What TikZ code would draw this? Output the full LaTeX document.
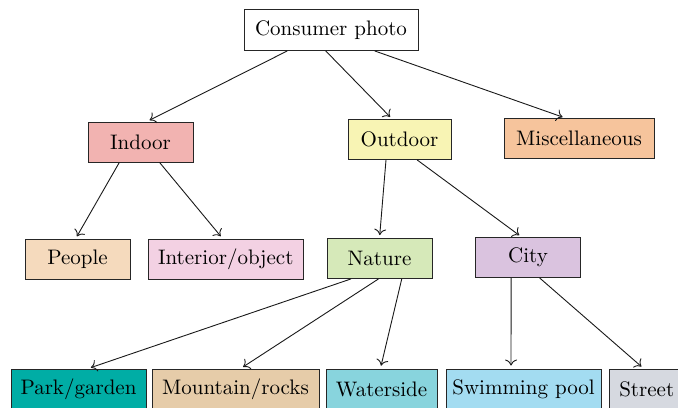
\documentclass[tikz,border=0pt]{standalone}
\usepackage{xcolor}
\usepackage{tikz}
\usetikzlibrary{arrows.meta,calc}

\definecolor{indoorc}{HTML}{F2B3B1}
\definecolor{outdoorc}{HTML}{F8F4B4}
\definecolor{miscc}{HTML}{F6C49C}
\definecolor{peoplec}{HTML}{F5DABD}
\definecolor{interiorc}{HTML}{F3D1E3}
\definecolor{naturec}{HTML}{D6E9B9}
\definecolor{cityc}{HTML}{DAC3DF}
\definecolor{parkc}{HTML}{00ADA5}
\definecolor{mountc}{HTML}{E6CCA9}
\definecolor{waterc}{HTML}{88D4DD}
\definecolor{swimc}{HTML}{A3DCF1}
\definecolor{streetc}{HTML}{D6D9E0}

\tikzset{
  cat/.style={draw=black!85, line width=0.45pt, fill=#1, minimum height=20pt, inner sep=0pt,
    font=\fontsize{10.5}{12}\selectfont},
  edge/.style={-{To[length=3pt,width=6pt]}, draw=black!90, line width=0.45pt, shorten >=1.5pt}
}

\begin{document}
\begin{tikzpicture}[x=0.5pt,y=-0.5pt]
        \useasboundingbox (0,0) rectangle (678,407);
        \clip (0,0) rectangle (678,407);
        % root and first level
        \node[cat=white, minimum width=87pt, minimum height=20.5pt] (cons) at (331,30) {Consumer photo};
        \node[cat=indoorc, minimum width=52.5pt] (indoor) at (140.5,142) {Indoor};
        \node[cat=outdoorc, minimum width=51.5pt] (outdoor) at (399.5,139.5) {Outdoor};
        \node[cat=miscc, minimum width=75pt] (misc) at (579,138.5) {Miscellaneous};
        % second level
        \node[cat=peoplec, minimum width=52.5pt] (people) at (77.5,259.5) {People};
        \node[cat=interiorc, minimum width=77.5pt] (interior) at (225.75,259) {Interior/object};
        \node[cat=naturec, minimum width=52.5pt] (nature) at (379.5,258.5) {Nature};
        \node[cat=cityc, minimum width=52.5pt] (city) at (528,257.5) {City};
        % leaves
        \node[cat=parkc, minimum width=67.5pt, minimum height=20.5pt] (park) at (78.5,389.5) {Park/garden};
        \node[cat=mountc, minimum width=83.5pt, minimum height=20.5pt] (mount) at (235.5,389.5) {Mountain/rocks};
        \node[cat=waterc, minimum width=55.5pt, minimum height=20.5pt] (water) at (381.5,389.5) {Waterside};
        \node[cat=swimc, minimum width=77.5pt, minimum height=20.5pt] (swim) at (523.5,389.5) {Swimming pool};
        \node[cat=streetc, minimum width=37.75pt, minimum height=20.5pt] (street) at (646.75,389.5) {Street};

        \draw[edge] ($(cons.south west)!.25!(cons.south east)$) -- ($(indoor.north west)!.56!(indoor.north east)$);
        \draw[edge] ($(cons.south west)!.47!(cons.south east)$) -- ($(outdoor.north west)!.43!(outdoor.north east)$);
        \draw[edge] ($(cons.south west)!.75!(cons.south east)$) -- ($(misc.north west)!.41!(misc.north east)$);

        \draw[edge] ($(indoor.south west)!.30!(indoor.south east)$) -- ($(people.north west)!.48!(people.north east)$);
        \draw[edge] ($(indoor.south west)!.68!(indoor.south east)$) -- ($(interior.north west)!.48!(interior.north east)$);
        \draw[edge] ($(outdoor.south west)!.37!(outdoor.south east)$) -- ($(nature.north west)!.50!(nature.north east)$);
        \draw[edge] ($(outdoor.south west)!.67!(outdoor.south east)$) -- ($(city.north west)!.44!(city.north east)$);

        \draw[edge] ($(nature.south west)!.23!(nature.south east)$) -- ($(park.north west)!.57!(park.north east)$);
        \draw[edge] ($(nature.south west)!.49!(nature.south east)$) -- ($(mount.north west)!.53!(mount.north east)$);
        \draw[edge] ($(nature.south west)!.71!(nature.south east)$) -- ($(water.north west)!.49!(water.north east)$);
        \draw[edge] ($(city.south west)!.34!(city.south east)$) -- ($(swim.north west)!.42!(swim.north east)$);
        \draw[edge] ($(city.south west)!.61!(city.south east)$) -- ($(street.north west)!.46!(street.north east)$);
\end{tikzpicture}
\end{document}
